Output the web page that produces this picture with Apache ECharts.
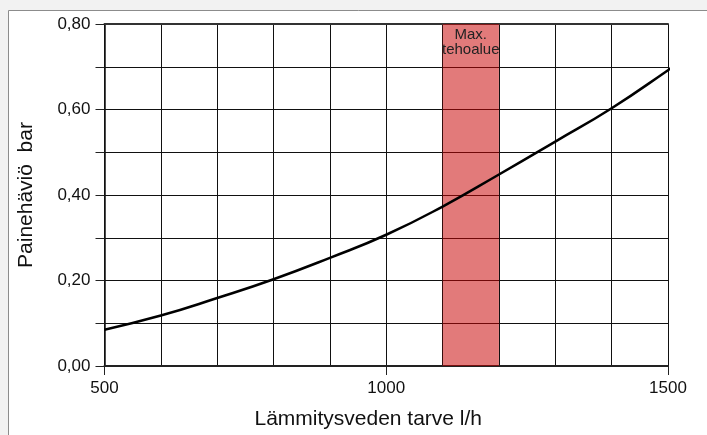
<!DOCTYPE html>
<html>
<head>
<meta charset="utf-8">
<script src="https://cdn.jsdelivr.net/npm/echarts@6/dist/echarts.min.js"></script>
<style>
html,body{margin:0;padding:0;background:#f2f2f2;}
#chart{width:707px;height:435px;}
</style>
</head>
<body>
<div id="chart"></div>
<script>
// Data
const flowRates = [500, 600, 700, 800, 900, 1000, 1100, 1200, 1300, 1400, 1500, 1507];
const pressureLoss = [0.085, 0.118, 0.159, 0.203, 0.253, 0.307, 0.373, 0.448, 0.525, 0.603, 0.692, 0.700];
const maxRange = [1100, 1200];
const maxRangeLabel = 'Max.\ntehoalue';
const xTitle = 'Lämmitysveden tarve l/h';
const yTitle = 'Painehäviö  bar';

const FONT = "'Liberation Sans', Arial, sans-serif";
const chart = echarts.init(document.getElementById('chart'), null, {renderer: 'canvas'});

const option = {
  backgroundColor: '#f2f2f2',
  animation: false,
  textStyle: {fontFamily: FONT},
  graphic: [{
    type: 'rect', z: -100, silent: true,
    shape: {x: 8.5, y: 10.5, width: 800, height: 600},
    style: {fill: '#ffffff', stroke: '#8c8c8c', lineWidth: 1}
  }],
  grid: {left: 104.5, right: 39, top: 24, bottom: 66},
  xAxis: [{
    type: 'value', min: 500, max: 1500, interval: 500,
    name: xTitle, nameLocation: 'middle', nameGap: 43,
    nameTextStyle: {fontSize: 21, color: '#111', fontFamily: FONT, padding: [0, 36, 0, 0]},
    axisLine: {show: true, lineStyle: {color: '#222', width: 2}},
    axisTick: {show: true, length: 9, lineStyle: {color: '#222', width: 1}},
    axisLabel: {fontSize: 17, color: '#111', margin: 14, fontFamily: FONT, formatter: v => String(v)},
    splitLine: {show: true, lineStyle: {color: '#111', width: 1}},
    minorTick: {show: false, splitNumber: 5},
    minorSplitLine: {show: true, lineStyle: {color: '#111', width: 1}}
  }, {
    type: 'value', position: 'top', min: 500, max: 1500,
    axisLine: {show: true, lineStyle: {color: '#333', width: 2}},
    axisTick: {show: false}, axisLabel: {show: false}, splitLine: {show: false}
  }],
  yAxis: {
    type: 'value', min: 0, max: 0.8, interval: 0.1,
    name: yTitle, nameLocation: 'middle', nameGap: 68,
    nameTextStyle: {fontSize: 21, color: '#111', fontFamily: FONT},
    axisLine: {show: true, lineStyle: {color: '#111', width: 1.5}},
    axisTick: {show: true, length: 9, lineStyle: {color: '#222', width: 1}},
    axisLabel: {
      fontSize: 17, color: '#111', margin: 14, fontFamily: FONT,
      formatter: v => (Math.round(v * 10) % 2 === 0) ? v.toFixed(2).replace('.', ',') : ''
    },
    splitLine: {show: true, lineStyle: {color: '#111', width: 1}}
  },
  series: [{
    type: 'line',
    data: flowRates.map((x, i) => [x, pressureLoss[i]]),
    smooth: true,
    showSymbol: false,
    clip: false,
    z: 5,
    lineStyle: {color: '#000', width: 2.5},
    markArea: {
      silent: true,
      itemStyle: {color: 'rgba(200,0,0,0.52)'},
      label: {
        show: true, position: 'insideTop', distance: 3,
        formatter: maxRangeLabel, fontSize: 15, lineHeight: 15,
        color: '#222', fontFamily: FONT
      },
      data: [[{xAxis: maxRange[0]}, {xAxis: maxRange[1]}]]
    }
  }]
};
chart.setOption(option);
</script>
</body>
</html>
